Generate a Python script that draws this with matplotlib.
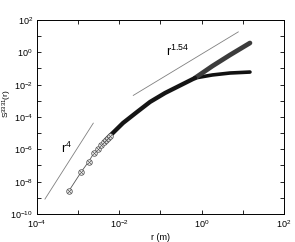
import numpy as np
import matplotlib
matplotlib.use("Agg")
import matplotlib.pyplot as plt
from matplotlib.ticker import LogLocator, FuncFormatter, NullLocator

plt.rcParams['font.family'] = ['Liberation Sans', 'DejaVu Sans']
plt.rcParams['mathtext.fontset'] = 'custom'
plt.rcParams['mathtext.rm'] = 'Liberation Sans'
plt.rcParams['mathtext.it'] = 'Liberation Sans'

# sparse part with markers (small r)
r_low = [6.0e-4, 1.2e-3, 1.8e-3, 2.4e-3, 3.0e-3, 3.6e-3, 4.2e-3, 4.8e-3, 5.4e-3, 6.0e-3]
s_low = [2.75e-9, 4.17e-8, 1.74e-7, 5.75e-7, 1.05e-6, 1.74e-6, 2.69e-6, 3.89e-6, 5.37e-6, 7.08e-6]

# dense band shared by both curves
r_main = [4.8e-3, 6.0e-3, 1.23e-2, 2.69e-2, 5.56e-2, 0.129, 0.394, 0.689]
s_main = [3.89e-6, 7.08e-6, 4.27e-5, 2.04e-4, 8.51e-4, 3.05e-3, 1.27e-2, 2.59e-2]

# branches at large r
r_up = [0.689, 1.82, 4.87, 14.9]
s_up = [2.59e-2, 0.141, 0.684, 3.78]
r_lo = [0.689, 1.82, 4.87, 14.9]
s_lo = [2.59e-2, 0.0398, 0.0525, 0.0603]

# reference slopes
r_ref4 = [1.56e-4, 2.33e-3]
c_ref4 = 10 ** 6.15
r_ref154 = [0.0218, 7.76]
c_ref154 = 10 ** -0.106

fig = plt.figure(figsize=(2.95, 2.42), dpi=100)
ax = fig.add_axes([0.1254, 0.1157, 0.8373, 0.8017])

ax.plot(r_ref4, [c_ref4 * r ** 4 for r in r_ref4], color='#808080', lw=0.6)
ax.plot(r_ref154, [c_ref154 * r ** 1.54 for r in r_ref154], color='#808080', lw=0.6)

ax.plot(r_lo, s_lo, color='#111111', lw=2.6, solid_capstyle='round', solid_joinstyle='round')
ax.plot(r_up, s_up, color='#3c3c3c', lw=3.4, solid_capstyle='round', solid_joinstyle='round')
ax.plot(r_main, s_main, color='#151515', lw=3.1, solid_capstyle='round', solid_joinstyle='round')

ax.plot(r_low, s_low, color='#555555', lw=0.6, marker='o', ms=4.0,
        mfc='white', mec='#555555', mew=0.6)
ax.plot(r_low, s_low, ls='none', marker='x', ms=2.4, mec='#555555', mew=0.5)

ax.text(0.136, 0.553, r'r$^{1.54}$', fontsize=9, ha='left', va='baseline')
ax.text(3.83e-4, 5.95e-7, r'r$^{4}$', fontsize=9, ha='left', va='baseline')

ax.set_xscale('log')
ax.set_yscale('log')
ax.set_xlim(1e-4, 1e2)
ax.set_ylim(1e-10, 1e2)

ax.xaxis.set_major_locator(LogLocator(base=10, numticks=20))
ax.yaxis.set_major_locator(LogLocator(base=10, numticks=20))
ax.xaxis.set_minor_locator(NullLocator())
ax.yaxis.set_minor_locator(NullLocator())


def even_only(v, pos):
    e = int(round(np.log10(v)))
    if e % 2:
        return ''
    return r'$10^{%d}$' % e


ax.xaxis.set_major_formatter(FuncFormatter(even_only))
ax.yaxis.set_major_formatter(FuncFormatter(even_only))
ax.tick_params(which='both', direction='in', top=True, right=True,
               length=3, width=0.6, labelsize=6.5, pad=3)
for sp in ax.spines.values():
    sp.set_linewidth(0.7)

ax.set_xlabel('r (m)', fontsize=6.5)
ax.xaxis.set_label_coords(0.5, -0.1)
ax.set_ylabel(r'S$^{3331}$(r)', fontsize=6)
ax.yaxis.set_label_coords(-0.092, 0.57)

fig.savefig('out.png', dpi=100)
